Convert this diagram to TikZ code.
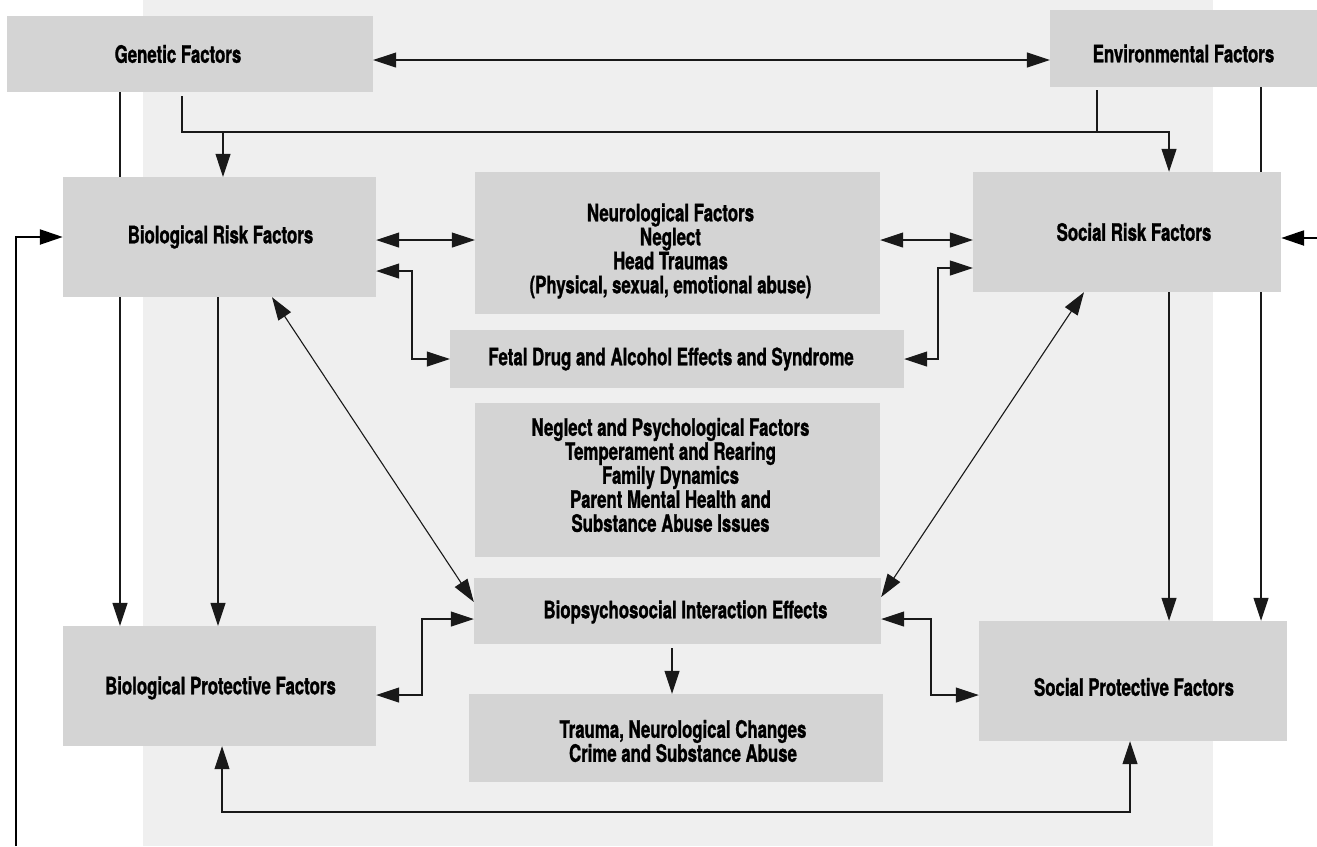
\documentclass[tikz,border=0pt]{standalone}
\usepackage{fontspec}
\newfontfamily\boxfont{TeX Gyre Heros}[FakeStretch=0.70,FakeBold=1.2]
\usetikzlibrary{arrows.meta,calc}
\pgfdeclarelayer{bglayer}
\pgfdeclarelayer{edges}
\pgfsetlayers{bglayer,edges,main}
\definecolor{panel}{HTML}{EFEFEF}
\definecolor{boxgray}{HTML}{D4D4D4}
\begin{document}
\begin{tikzpicture}[x=1pt,y=-1pt,
  box/.style={fill=boxgray, draw=none, inner sep=0pt},
  txt/.style={inner sep=0pt, align=center,
    font=\boxfont\bfseries\fontsize{24}{24}\selectfont},
  conn/.style={line width=1.1pt, draw=black!90},
  both/.style={conn, {Triangle[length=23pt,width=15pt]}-{Triangle[length=23pt,width=15pt]}},
  fwd/.style={conn, -{Triangle[length=23pt,width=15pt]}},
  plain/.style={conn},
  outer/.style={line width=2.3pt, draw=black, -{Triangle[length=23pt,width=15pt]}}]
\useasboundingbox (0,0) rectangle (1317,846);
\begin{pgfonlayer}{bglayer}
  \fill[white] (0,0) rectangle (1317,846);
  \fill[panel] (143,0) rectangle (1213,846);
\end{pgfonlayer}

% boxes
\node[box, minimum width=366pt, minimum height=76pt,
  label={[txt, xshift=-12pt]center:{Genetic Factors}}] (gen) at (190,54) {};
\node[box, minimum width=267pt, minimum height=77pt,
  label={[txt, yshift=-5pt]center:{Environmental Factors}}] (env) at (1183.5,48.5) {};
\node[box, minimum width=313pt, minimum height=120pt,
  label={[txt, xshift=1pt]center:{Biological Risk Factors}}] (br) at (219.5,237) {};
\node[box, minimum width=308pt, minimum height=120pt,
  label={[txt, xshift=7pt]center:{Social Risk Factors}}] (sr) at (1127,232) {};
\node[box, minimum width=405pt, minimum height=142pt,
  label={[txt, xshift=-7pt, yshift=-8pt]center:{Neurological Factors\\Neglect\\Head Traumas\\(Physical, sexual, emotional abuse)}}] (neuro) at (677.5,243) {};
\node[box, minimum width=454pt, minimum height=58pt,
  label={[txt, xshift=-6pt]center:{Fetal Drug and Alcohol Effects and Syndrome}}] (fetal) at (677,359) {};
\node[box, minimum width=405pt, minimum height=154pt,
  label={[txt, xshift=-7pt, yshift=5pt]center:{Neglect and Psychological Factors\\Temperament and Rearing\\Family Dynamics\\Parent Mental Health and\\Substance Abuse Issues}}] (neg) at (677.5,480) {};
\node[box, minimum width=407pt, minimum height=66pt,
  label={[txt, xshift=8pt, yshift=-1pt]center:{Biopsychosocial Interaction Effects}}] (bio) at (677.5,611) {};
\node[box, minimum width=414pt, minimum height=88pt,
  label={[txt, xshift=7pt, yshift=-3pt]center:{Trauma, Neurological Changes\\Crime and Substance Abuse}}] (tr) at (676,738) {};
\node[box, minimum width=313pt, minimum height=120pt,
  label={[txt, xshift=1pt, yshift=-2pt]center:{Biological Protective Factors}}] (bp) at (219.5,686) {};
\node[box, minimum width=308pt, minimum height=120pt,
  label={[txt, xshift=1pt, yshift=-6pt]center:{Social Protective Factors}}] (sp) at (1133,681) {};

% helper coordinates
\coordinate (r60) at (0,60);
\coordinate (r132) at (0,132);
\coordinate (r240) at (0,240);
\coordinate (r270) at (0,271);
\coordinate (r268) at (0,268);
\coordinate (r602) at (0,602);
\coordinate (r597) at (0,597);
\coordinate (r619) at (0,619);
\coordinate (r695) at (0,695);
\coordinate (r812) at (0,812);
\coordinate (x120) at (120,0);
\coordinate (x182) at (182,0);
\coordinate (x218) at (218,0);
\coordinate (x222) at (222,0);
\coordinate (x223) at (223,0);
\coordinate (x272) at (272,0);
\coordinate (x412) at (412,0);
\coordinate (x422) at (422,0);
\coordinate (x672) at (672,0);
\coordinate (x931) at (931,0);
\coordinate (x938) at (938,0);
\coordinate (x1084) at (1084,0);
\coordinate (x1097) at (1097,0);
\coordinate (x1130) at (1130,0);
\coordinate (x1169) at (1169,0);
\coordinate (x1261) at (1261,0);
\coordinate (lo) at (16,846);
\coordinate (ro) at (1317,238);

\begin{pgfonlayer}{edges}
  \draw[both] (gen.east |- r60) -- (env.west |- r60);
  \draw[fwd] (gen.south -| x120) -- (bp.north -| x120);
  \draw[fwd] ([yshift=-4pt]gen.south -| x182) -- (x182 |- r132) -- (x1169 |- r132) -- (sr.north -| x1169);
  \draw[plain] ([yshift=-3pt]env.south -| x1097) -- (x1097 |- r132);
  \draw[fwd] (x223 |- r132) -- (br.north -| x223);
  \draw[fwd] (env.south -| x1261) -- (sp.north -| x1261);
  \draw[both] (br.east |- r240) -- (neuro.west |- r240);
  \draw[both] (neuro.east |- r240) -- (sr.west |- r240);
  \draw[both] (br.east |- r270) -- (x412 |- r270) -- (x412 |- fetal.west) -- (fetal.west);
  \draw[both] (fetal.east) -- (fetal.east -| x938) -- (x938 |- r268) -- (sr.west |- r268);
  \draw[fwd] (br.south -| x218) -- (bp.north -| x218);
  \draw[fwd] (sr.south -| x1169) -- (sp.north -| x1169);
  \draw[both] (br.south -| x272) -- (bio.west |- r602);
  \draw[both] (sr.south -| x1084) -- (bio.east |- r597);
  \draw[both] (bio.west |- r619) -- (x422 |- r619) -- (x422 |- r695) -- (bp.east |- r695);
  \draw[both] (bio.east |- r619) -- (x931 |- r619) -- (x931 |- r695) -- (sp.west |- r695);
  \draw[fwd] ([yshift=-4pt]bio.south -| x672) -- (tr.north -| x672);
  \draw[both] (bp.south -| x222) -- (x222 |- r812) -- (x1130 |- r812) -- (sp.south -| x1130);
  \draw[outer] (lo) |- (br.west);
  \draw[outer] (ro) -- (ro -| sr.east);
\end{pgfonlayer}
\end{tikzpicture}
\end{document}
